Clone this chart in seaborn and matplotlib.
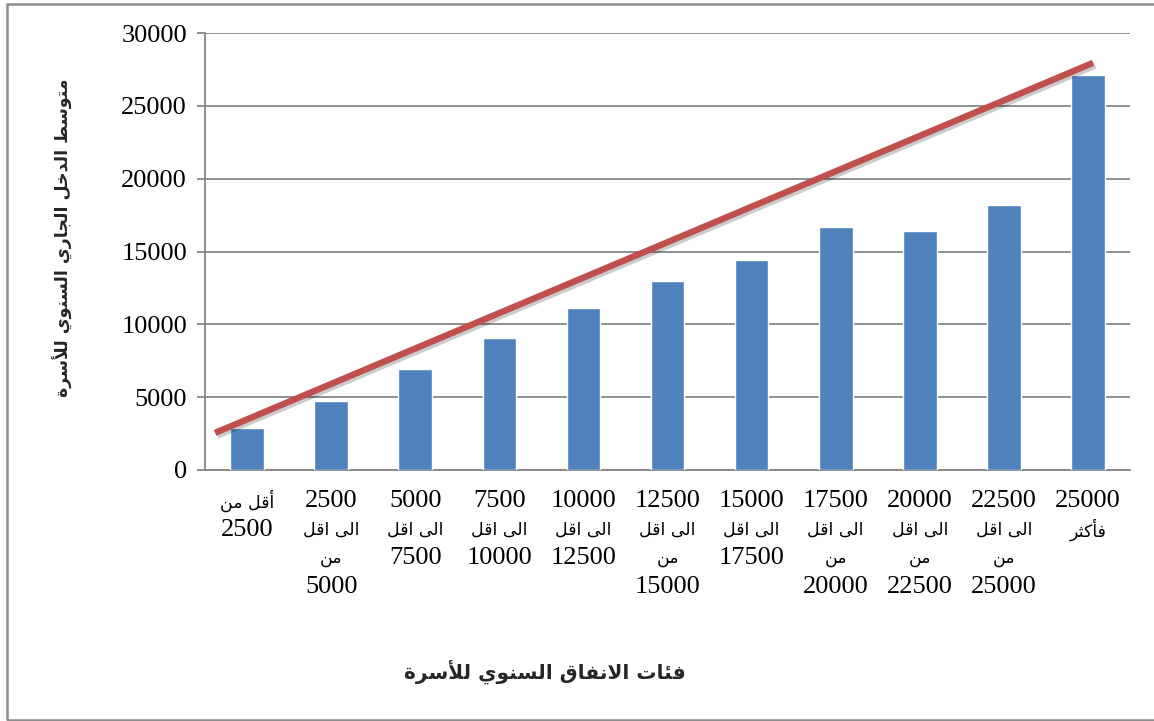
import numpy as np
import pandas as pd
import matplotlib
matplotlib.use("Agg")
import matplotlib.pyplot as plt
import matplotlib.patheffects as pe
from matplotlib.patches import Rectangle
from matplotlib.transforms import offset_copy
import seaborn as sns

# ---------------- data ----------------
categories = [
    "أقل من\n2500",
    "2500\nالى اقل\nمن\n5000",
    "5000\nالى اقل\n7500",
    "7500\nالى اقل\n10000",
    "10000\nالى اقل\n12500",
    "12500\nالى اقل\nمن\n15000",
    "15000\nالى اقل\n17500",
    "17500\nالى اقل\nمن\n20000",
    "20000\nالى اقل\nمن\n22500",
    "22500\nالى اقل\nمن\n25000",
    "25000\nفأكثر",
]
income = [2850, 4750, 6950, 9050, 11100, 12950, 14450, 16650, 16400, 18200, 27100]
trend_pos = [-0.38, 10.06]
trend_val = [2550, 27950]
y_ticks = [0, 5000, 10000, 15000, 20000, 25000, 30000]
y_label = "متوسط الدخل الجاري السنوي للأسرة"
x_label = "فئات الانفاق السنوي للأسرة"

# ---------------- minimal Arabic shaping ----------------
FORMS = {
    '\u0627': ('\uFE8D', '\uFE8E', None, None),
    '\u0623': ('\uFE83', '\uFE84', None, None),
    '\u0625': ('\uFE87', '\uFE88', None, None),
    '\u0622': ('\uFE81', '\uFE82', None, None),
    '\u0626': ('\uFE89', '\uFE8A', '\uFE8B', '\uFE8C'),
    '\u0628': ('\uFE8F', '\uFE90', '\uFE91', '\uFE92'),
    '\u0629': ('\uFE93', '\uFE94', None, None),
    '\u062A': ('\uFE95', '\uFE96', '\uFE97', '\uFE98'),
    '\u062B': ('\uFE99', '\uFE9A', '\uFE9B', '\uFE9C'),
    '\u062C': ('\uFE9D', '\uFE9E', '\uFE9F', '\uFEA0'),
    '\u062D': ('\uFEA1', '\uFEA2', '\uFEA3', '\uFEA4'),
    '\u062E': ('\uFEA5', '\uFEA6', '\uFEA7', '\uFEA8'),
    '\u062F': ('\uFEA9', '\uFEAA', None, None),
    '\u0630': ('\uFEAB', '\uFEAC', None, None),
    '\u0631': ('\uFEAD', '\uFEAE', None, None),
    '\u0632': ('\uFEAF', '\uFEB0', None, None),
    '\u0633': ('\uFEB1', '\uFEB2', '\uFEB3', '\uFEB4'),
    '\u0634': ('\uFEB5', '\uFEB6', '\uFEB7', '\uFEB8'),
    '\u0637': ('\uFEC1', '\uFEC2', '\uFEC3', '\uFEC4'),
    '\u0639': ('\uFEC9', '\uFECA', '\uFECB', '\uFECC'),
    '\u0641': ('\uFED1', '\uFED2', '\uFED3', '\uFED4'),
    '\u0642': ('\uFED5', '\uFED6', '\uFED7', '\uFED8'),
    '\u0643': ('\uFED9', '\uFEDA', '\uFEDB', '\uFEDC'),
    '\u0644': ('\uFEDD', '\uFEDE', '\uFEDF', '\uFEE0'),
    '\u0645': ('\uFEE1', '\uFEE2', '\uFEE3', '\uFEE4'),
    '\u0646': ('\uFEE5', '\uFEE6', '\uFEE7', '\uFEE8'),
    '\u0647': ('\uFEE9', '\uFEEA', '\uFEEB', '\uFEEC'),
    '\u0648': ('\uFEED', '\uFEEE', None, None),
    '\u0649': ('\uFEEF', '\uFEF0', None, None),
    '\u064A': ('\uFEF1', '\uFEF2', '\uFEF3', '\uFEF4'),
}
LAM_ALEF = {'\u0627': ('\uFEFB', '\uFEFC'), '\u0623': ('\uFEF7', '\uFEF8'),
            '\u0625': ('\uFEF9', '\uFEFA'), '\u0622': ('\uFEF5', '\uFEF6')}


def is_arabic(line):
    return any(c in FORMS for c in line)


def shape(text):
    out = []
    for line in text.split('\n'):
        if not is_arabic(line):
            out.append(line)
            continue
        units = []
        i = 0
        while i < len(line):
            c = line[i]
            if c == '\u0644' and i + 1 < len(line) and line[i + 1] in LAM_ALEF:
                iso, fin = LAM_ALEF[line[i + 1]]
                units.append((iso, fin, None, None))
                i += 2
                continue
            units.append(FORMS.get(c, c))
            i += 1
        res = []
        for k, u in enumerate(units):
            if isinstance(u, str):
                res.append(u)
                continue
            prev = units[k - 1] if k > 0 else None
            nxt = units[k + 1] if k + 1 < len(units) else None
            jp = prev is not None and not isinstance(prev, str) and prev[2] is not None
            jn = nxt is not None and not isinstance(nxt, str) and u[2] is not None
            if jp and jn:
                g = u[3]
            elif jp:
                g = u[1]
            elif jn:
                g = u[2]
            else:
                g = u[0]
            res.append(g)
        out.append(''.join(reversed(res)))
    return '\n'.join(out)


# ---------------- plot ----------------
sns.set_theme(style="white")
plt.rcParams['font.family'] = ['Liberation Serif', 'DejaVu Sans']

fig = plt.figure(figsize=(11.54, 7.21), dpi=100)
ax = fig.add_axes([205 / 1154, 1 - 470 / 721, (1130 - 205) / 1154, (470 - 33) / 721])

df = pd.DataFrame({"cat": categories, "income": income})
sns.barplot(data=df, x="cat", y="income", color="#4F81BD", saturation=1,
            width=0.4, ax=ax, zorder=3)

ax.plot(trend_pos, trend_val, color="#C0504D", lw=4.6, solid_capstyle="butt", zorder=4,
        path_effects=[pe.SimpleLineShadow(offset=(1.5, -2), alpha=0.2, shadow_color="black"),
                      pe.Normal()])

ax.set_xlim(-0.5, len(categories) - 0.5)
ax.set_ylim(0, 30000)
ax.set_yticks(y_ticks)
ax.set_yticklabels([str(v) for v in y_ticks])
ax.yaxis.grid(True, color="#868686", lw=1.3, zorder=0)
ax.set_axisbelow(True)

for s in ["top", "right"]:
    ax.spines[s].set_visible(False)
for s in ["left", "bottom"]:
    ax.spines[s].set_color("#868686")
    ax.spines[s].set_linewidth(1.3)

ax.tick_params(axis="y", which="both", left=True, length=6, width=1.3, color="#868686",
               pad=7, labelsize=19, labelcolor="black")
for lab in ax.get_yticklabels():
    lab.set_family(['Liberation Serif', 'DejaVu Sans'])

# category labels: numbers in serif, Arabic words in a smaller Arabic-capable face
ax.set_xticks(range(len(categories)))
ax.set_xticklabels([""] * len(categories))
ax.tick_params(axis="x", bottom=False)
for i, cat in enumerate(categories):
    for j, line in enumerate(cat.split('\n')):
        tr = offset_copy(ax.get_xaxis_transform(), fig=fig, x=0,
                         y=-(31 + 28.7 * j), units='dots')
        if is_arabic(line):
            ax.text(i, 0, shape(line), transform=tr, ha="center", va="center",
                    fontsize=12.5, family=['DejaVu Sans'], color="black")
        else:
            ax.text(i, 0, line, transform=tr, ha="center", va="center",
                    fontsize=19, family=['Liberation Serif'], color="black")

ax.set_xlabel("")
ax.set_ylabel("")
fig.text(63 / 1154, 1 - 238 / 721, shape(y_label), rotation=90, ha="center", va="center",
         fontsize=12.5, fontweight="bold", family=['DejaVu Sans'])
fig.text(545 / 1154, 1 - 672 / 721, shape(x_label), ha="center", va="center",
         fontsize=14.5, fontweight="bold", family=['DejaVu Sans'])

# chart frame
fig.patches.append(Rectangle((7 / 1154, 1 / 721), 1.2, 1 - 5 / 721, transform=fig.transFigure,
                             fill=False, edgecolor="#8c8c8c", lw=1.8, zorder=0))

fig.savefig("out.png", dpi=100)
